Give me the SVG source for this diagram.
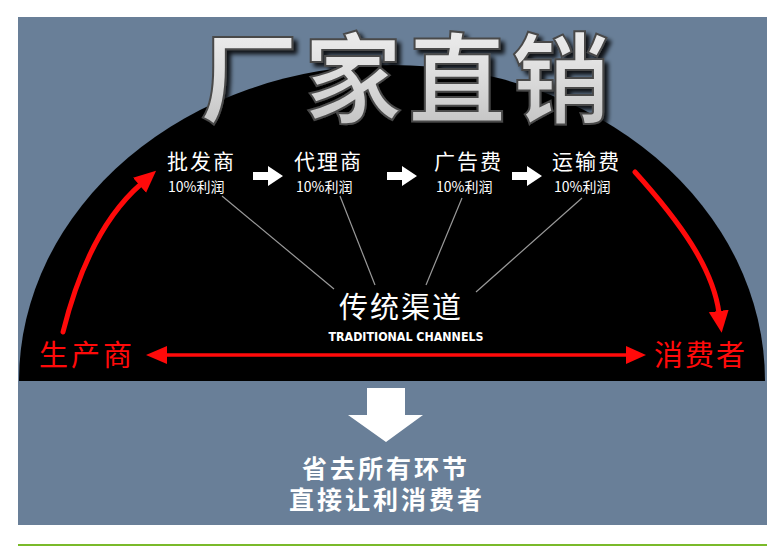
<svg xmlns="http://www.w3.org/2000/svg" width="782" height="547" viewBox="0 0 782 547">
<defs>
<style>
.cjk{font-family:"Noto Sans CJK SC","Liberation Sans",sans-serif;}
.lbl{fill:#ffffff;font-size:21px;}
.sub{fill:#ffffff;font-size:14px;}
.red{fill:#ff0a0a;font-size:29px;}
.spoke{stroke:#9a9a9a;stroke-width:1.2;fill:none;}
.rl{stroke:#ff0a0a;fill:none;stroke-linecap:round;}
.btm{fill:#ffffff;font-size:25px;font-weight:700;letter-spacing:3px;}
</style>
<linearGradient id="silver" x1="0" y1="0" x2="0" y2="1">
<stop offset="0" stop-color="#f6f6f6"/>
<stop offset="0.5" stop-color="#dedede"/>
<stop offset="1" stop-color="#bcbcbc"/>
</linearGradient>
<filter id="shadow" x="-10%" y="-20%" width="120%" height="150%">
<feGaussianBlur in="SourceAlpha" stdDeviation="2"/>
<feOffset dx="4" dy="4" result="b"/>
<feFlood flood-color="#000" flood-opacity="0.85"/>
<feComposite in2="b" operator="in" result="s"/>
<feMerge><feMergeNode in="s"/><feMergeNode in="SourceGraphic"/></feMerge>
</filter>
<marker id="rh" markerUnits="userSpaceOnUse" markerWidth="24" markerHeight="24" refX="2" refY="10" orient="auto">
<path d="M0,0 L22,10 L0,20 Z" fill="#ff0a0a"/>
</marker>
</defs>
<rect x="0" y="0" width="782" height="547" fill="#ffffff"/>
<rect x="18" y="17" width="749" height="508" fill="#697f98"/>
<path d="M19,381 A373,316 0 0 1 765,381 Z" fill="#000000"/>
<line x1="18" y1="545" x2="767" y2="545" stroke="#7aba2a" stroke-width="2"/>

<g id="title">
<text x="408" y="115" text-anchor="middle" class="cjk" font-size="98" font-weight="700" letter-spacing="6" fill="url(#silver)" stroke="#4a4a4a" stroke-width="2" filter="url(#shadow)">厂家直销</text>
</g>

<g id="connectors">
<line class="spoke" x1="222" y1="196" x2="334" y2="289"/>
<line class="spoke" x1="340" y1="196" x2="375" y2="285"/>
<line class="spoke" x1="462" y1="198" x2="426" y2="285"/>
<line class="spoke" x1="582" y1="198" x2="476" y2="292"/>
<path class="rl" stroke-width="5" d="M63,332 C78,272 102,218 141,184" marker-end="url(#rh)"/>
<path class="rl" stroke-width="5" d="M635,172 C680,222 713,268 719,313" marker-end="url(#rh)"/>
<line x1="165" y1="355" x2="628" y2="355" stroke="#ff0a0a" stroke-width="3.5"/>
<path d="M146,355 L167,346 L167,364 Z" fill="#ff0a0a"/>
<path d="M646,355 L626,346 L626,364 Z" fill="#ff0a0a"/>
<path d="M253,172 L268,172 L268,166 L283,176 L268,186 L268,180 L253,180 Z" fill="#ffffff"/>
<path d="M387,172 L402,172 L402,166 L417,176 L402,186 L402,180 L387,180 Z" fill="#ffffff"/>
<path d="M512,172 L527,172 L527,166 L542,176 L527,186 L527,180 L512,180 Z" fill="#ffffff"/>
<path d="M367,388 L405,388 L405,415 L423,415 L386,442 L348,415 L367,415 Z" fill="#ffffff"/>
</g>

<g id="n1"><text x="167" y="169" class="cjk lbl" letter-spacing="2">批发商</text><text x="168" y="192" class="cjk sub">10%利润</text></g>
<g id="n2"><text x="294" y="169" class="cjk lbl" letter-spacing="2">代理商</text><text x="296" y="192" class="cjk sub">10%利润</text></g>
<g id="n3"><text x="434" y="169" class="cjk lbl" letter-spacing="2">广告费</text><text x="436" y="192" class="cjk sub">10%利润</text></g>
<g id="n4"><text x="552" y="169" class="cjk lbl" letter-spacing="2">运输费</text><text x="554" y="192" class="cjk sub">10%利润</text></g>

<g id="center">
<text x="401" y="318" text-anchor="middle" class="cjk" font-size="29" letter-spacing="2" fill="#ffffff">传统渠道</text>
<text x="406" y="341" text-anchor="middle" font-family="'DejaVu Sans','Liberation Sans',sans-serif" font-weight="700" font-size="13" textLength="155" lengthAdjust="spacingAndGlyphs" fill="#ffffff">TRADITIONAL CHANNELS</text>
</g>

<g id="producer"><text x="39" y="366" class="cjk red" letter-spacing="3">生产商</text></g>
<g id="consumer"><text x="654" y="366" class="cjk red" letter-spacing="2">消费者</text></g>

<g id="bottom">
<text x="386" y="478" text-anchor="middle" class="cjk btm">省去所有环节</text>
<text x="387" y="509" text-anchor="middle" class="cjk btm">直接让利消费者</text>
</g>
</svg>
